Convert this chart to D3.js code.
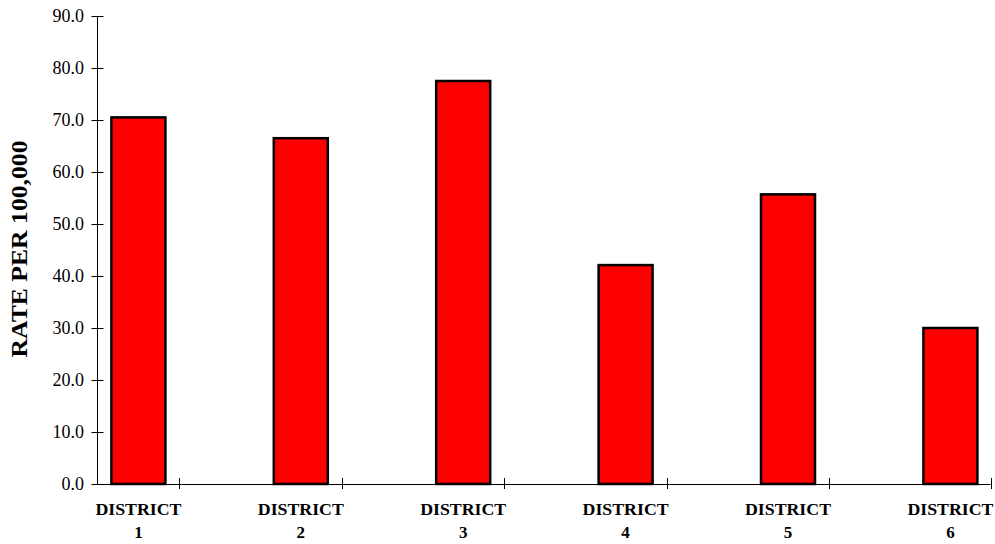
<!DOCTYPE html>
<html><head><meta charset="utf-8">
<script src="https://cdn.jsdelivr.net/npm/d3@7"></script>
<style>body{margin:0;background:#fff}</style>
</head><body>
<svg id="c" width="995" height="544"></svg>
<script>
const categories = ["DISTRICT 1","DISTRICT 2","DISTRICT 3","DISTRICT 4","DISTRICT 5","DISTRICT 6"];
const values = [70.5, 66.5, 77.5, 42.1, 55.7, 30.0];
const yTicks = [0,10,20,30,40,50,60,70,80,90];
const yTitle = "RATE PER 100,000";

const svg = d3.select("#c");
const y = d3.scaleLinear().domain([0,90]).range([484,16]);
const x = d3.scaleBand().domain(categories).range([57.2, 1031.6]);
const font = "'Liberation Serif','Times New Roman',serif";
const axisX = 97.5;

// y axis
svg.append("line").attr("x1",axisX).attr("x2",axisX).attr("y1",y(90)).attr("y2",y(0)).attr("stroke","#000").attr("stroke-width",1);
yTicks.forEach(t=>{
  svg.append("line").attr("x1",axisX-6).attr("x2",axisX+6).attr("y1",y(t)+0.5).attr("y2",y(t)+0.5).attr("stroke","#000");
  svg.append("text").attr("x",84).attr("y",y(t)+6).attr("text-anchor","end")
    .attr("font-family",font).attr("font-size",18).text(t.toFixed(1));
});
// x axis
svg.append("line").attr("x1",axisX).attr("x2",990.5).attr("y1",y(0)+0.5).attr("y2",y(0)+0.5).attr("stroke","#000");
categories.forEach(c=>{
  const tx = Math.round(x(c)+x.bandwidth()/2+41)+0.5;
  svg.append("line").attr("x1",tx).attr("x2",tx).attr("y1",y(0)-6).attr("y2",y(0)+5).attr("stroke","#000");
});
// bars
const bw = 54;
svg.selectAll("rect.bar").data(categories).enter().append("rect")
  .attr("x",(d)=>x(d)+x.bandwidth()/2-bw/2)
  .attr("y",(d,i)=>y(values[i]))
  .attr("width",bw)
  .attr("height",(d,i)=>y(0)-y(values[i]))
  .attr("fill","#ff0000").attr("stroke","#000").attr("stroke-width",2.5);
// x labels
categories.forEach(c=>{
  const parts = c.split(" ");
  const cx = x(c)+x.bandwidth()/2;
  svg.append("text").attr("text-anchor","middle").attr("font-family",font)
    .attr("font-weight","bold").attr("font-size",17).attr("x",cx).attr("y",515)
    .attr("textLength",86).attr("lengthAdjust","spacingAndGlyphs").text(parts[0]);
  svg.append("text").attr("text-anchor","middle").attr("font-family",font)
    .attr("font-weight","bold").attr("font-size",17).attr("x",cx).attr("y",538).text(parts[1]);
});
// y title
svg.append("text").attr("transform","translate(27,249) rotate(-90)").attr("text-anchor","middle")
  .attr("font-family",font).attr("font-weight","bold").attr("font-size",23)
  .attr("textLength",217).attr("lengthAdjust","spacingAndGlyphs").text(yTitle);
</script>
</body></html>
